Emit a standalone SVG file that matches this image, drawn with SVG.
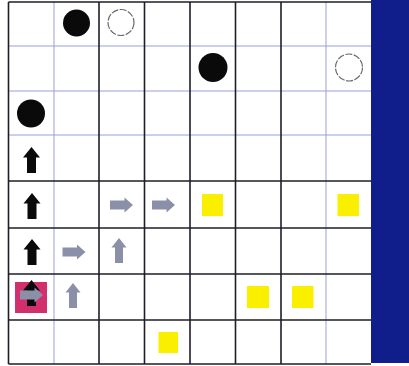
<svg xmlns="http://www.w3.org/2000/svg" xmlns:xlink="http://www.w3.org/1999/xlink" width="409" height="366" viewBox="0 0 409 366">
<style>
.dk{stroke:#1e1e2a;stroke-width:1.6;fill:none}
.lt{stroke:#9aa0d8;stroke-width:1;fill:none}
.blk{fill:#0a0a0a}
.open{fill:#ffffff;stroke:#6a6a6a;stroke-width:1.2;stroke-dasharray:7 1.5}
.ua{fill:#0a0a0a}
.ga{fill:#8b90a8}
.yel{fill:#fbef00}
</style>
<defs>
<path id="up" d="M0,-13 L8.5,-2.5 L4.5,-2.5 L4.5,13 L-4.5,13 L-4.5,-2.5 L-8.5,-2.5 Z"/>
<path id="gup" d="M0,-12.5 L7.5,-3 L4,-3 L4,12.5 L-4,12.5 L-4,-3 L-7.5,-3 Z"/>
<path id="gr" d="M11.5,0 L3,-7.5 L3,-4.5 L-11.5,-4.5 L-11.5,4.5 L3,4.5 L3,7.5 Z"/>
</defs>
<rect width="409" height="366" fill="#ffffff"/>
<rect x="371" y="0" width="38" height="363" fill="#0f1e8a"/>
<g id="grid">
<line class="lt" x1="8.5" y1="46" x2="371" y2="46"/>
<line class="lt" x1="8.5" y1="91" x2="371" y2="91"/>
<line class="lt" x1="8.5" y1="135" x2="371" y2="135"/>
<line class="lt" x1="54" y1="2" x2="54" y2="364"/>
<line class="lt" x1="326" y1="2" x2="326" y2="364"/>
<line class="dk" x1="8.5" y1="2" x2="371" y2="2"/>
<line class="dk" x1="8.5" y1="181" x2="371" y2="181"/>
<line class="dk" x1="8.5" y1="228" x2="371" y2="228"/>
<line class="dk" x1="8.5" y1="274" x2="371" y2="274"/>
<line class="dk" x1="8.5" y1="320" x2="371" y2="320"/>
<line class="dk" x1="8.5" y1="364" x2="371" y2="364"/>
<line class="dk" x1="8.5" y1="2" x2="8.5" y2="364"/>
<line class="dk" x1="99" y1="2" x2="99" y2="364"/>
<line class="dk" x1="144.5" y1="2" x2="144.5" y2="364"/>
<line class="dk" x1="190" y1="2" x2="190" y2="364"/>
<line class="dk" x1="235.5" y1="2" x2="235.5" y2="364"/>
<line class="dk" x1="281" y1="2" x2="281" y2="364"/>
</g>
<g id="c1"><circle class="blk" cx="76.5" cy="23" r="13.5"/></g>
<g id="c2"><circle class="open" cx="121" cy="22.5" r="13"/></g>
<g id="c3"><circle class="blk" cx="213" cy="67.5" r="14.5"/></g>
<g id="c4"><circle class="open" cx="349" cy="67.5" r="13.5"/></g>
<g id="c5"><circle class="blk" cx="31" cy="113.5" r="14"/></g>
<g id="a1"><use href="#up" class="ua" x="31.5" y="160"/></g>
<g id="a2"><use href="#up" class="ua" x="32" y="206"/></g>
<g id="a3"><use href="#up" class="ua" x="32" y="252"/></g>
<g id="g1"><use href="#gr" class="ga" x="121.5" y="205"/></g>
<g id="g2"><use href="#gr" class="ga" x="163.5" y="205"/></g>
<g id="g3"><use href="#gr" class="ga" x="74" y="252"/></g>
<g id="g4"><use href="#gup" class="ga" x="119" y="250.5"/></g>
<g id="start">
<rect x="15" y="282" width="32" height="31" fill="#d2306c"/>
<use href="#up" class="ua" x="31.5" y="293"/>
<use href="#gr" class="ga" x="31.5" y="295"/>
</g>
<g id="g5"><use href="#gup" class="ga" x="73" y="295.5"/></g>
<g id="y1"><rect class="yel" x="202" y="194" width="21" height="22"/></g>
<g id="y2"><rect class="yel" x="337.5" y="194" width="21.5" height="22"/></g>
<g id="y3"><rect class="yel" x="247" y="286" width="22" height="22"/></g>
<g id="y4"><rect class="yel" x="292" y="286" width="21.5" height="22"/></g>
<g id="y5"><rect class="yel" x="158.5" y="332" width="19.5" height="21"/></g>
</svg>
